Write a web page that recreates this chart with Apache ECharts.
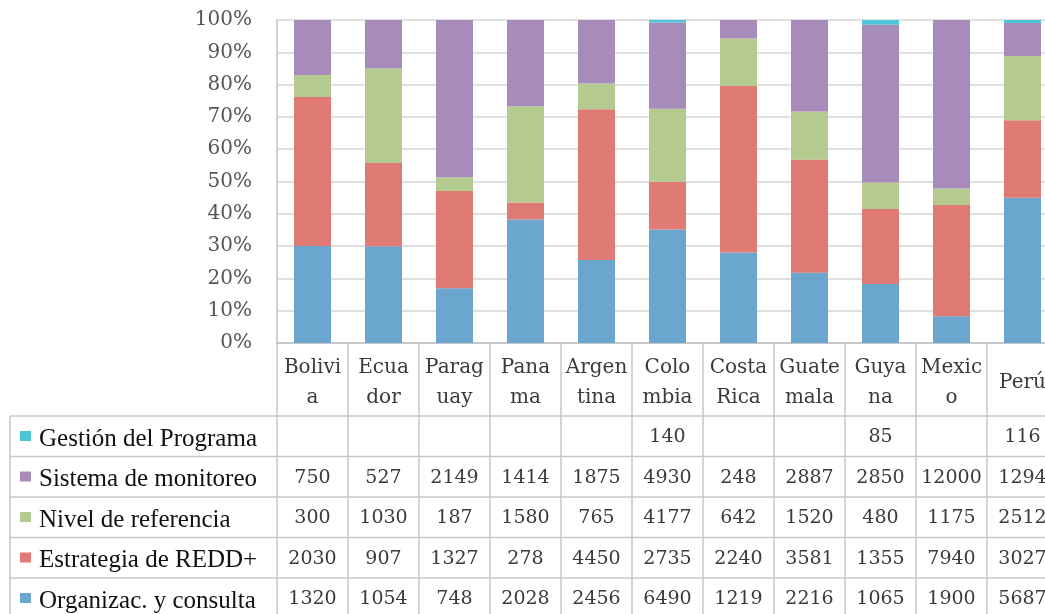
<!DOCTYPE html>
<html>
<head>
<meta charset="utf-8">
<script src="https://cdn.jsdelivr.net/npm/echarts@6/dist/echarts.min.js"></script>
<style>
  html, body { margin: 0; padding: 0; background: #fff; overflow: hidden; }
  #chart { width: 1060px; height: 614px; }
</style>
</head>
<body>
<div id="chart"></div>
<script>
// datos (tabla del reporte)
const countries = ['Bolivia', 'Ecuador', 'Paraguay', 'Panama', 'Argentina', 'Colombia', 'Costa Rica', 'Guatemala', 'Guyana', 'Mexico', 'Perú'];
const countryLabels = ['Bolivi\na', 'Ecua\ndor', 'Parag\nuay', 'Pana\nma', 'Argen\ntina', 'Colo\nmbia', 'Costa\nRica', 'Guate\nmala', 'Guya\nna', 'Mexic\no', 'Perú'];
const organizac = [1320, 1054, 748, 2028, 2456, 6490, 1219, 2216, 1065, 1900, 5687];
const estrategia = [2030, 907, 1327, 278, 4450, 2735, 2240, 3581, 1355, 7940, 3027];
const nivel = [300, 1030, 187, 1580, 765, 4177, 642, 1520, 480, 1175, 2512];
const sistema = [750, 527, 2149, 1414, 1875, 4930, 248, 2887, 2850, 12000, 1294];
const gestion = [null, null, null, null, null, 140, null, null, 85, null, 116];

const seriesNames = ['Organizac. y consulta', 'Estrategia de REDD+', 'Nivel de referencia', 'Sistema de monitoreo', 'Gestión del Programa'];
const seriesData = [organizac, estrategia, nivel, sistema, gestion];
const colors = ['#6aa6cd', '#e07a74', '#b4ca8f', '#a78bba', '#4cc5d6'];

const totals = countries.map((c, i) => seriesData.reduce((s, arr) => s + (arr[i] || 0), 0));

const chartDom = document.getElementById('chart');
const chart = echarts.init(chartDom);

const serif = '"DejaVu Serif", serif';
const plotLeft = 277;
const catWidth = 71;

let option = {
  animation: false,
  grid: {
    left: plotLeft,
    top: 20,
    width: catWidth * countries.length,
    bottom: 271,
  },
  xAxis: {
    type: 'category',
    data: countries,
    axisLine: { lineStyle: { color: '#bfbfbf', width: 1.5 } },
    axisTick: {
      show: true,
      interval: 0,
      length: 280,
      lineStyle: { color: '#c8c8c8', width: 1.5 },
    },
    axisLabel: {
      interval: 0,
      margin: 40,
      align: 'center',
      verticalAlign: 'middle',
      lineHeight: 30,
      fontFamily: serif,
      fontSize: 20,
      color: '#3a3a3a',
      formatter: (v, i) => countryLabels[i],
    },
  },
  yAxis: {
    type: 'value',
    min: 0,
    max: 100,
    interval: 10,
    axisLine: { show: true, lineStyle: { color: '#bfbfbf', width: 1.5 } },
    axisTick: { show: false },
    splitLine: { lineStyle: { color: '#d6d6d6', width: 1.5 } },
    axisLabel: {
      margin: 25,
      fontFamily: serif,
      fontSize: 20,
      color: '#555',
      formatter: '{value}%',
    },
  },
  series: seriesNames.map((name, k) => ({
    name: name,
    type: 'bar',
    stack: 'total',
    barWidth: 37,
    itemStyle: { color: colors[k] },
    data: seriesData[k].map((v, i) => (v == null ? null : (v / totals[i]) * 100)),
  })),
};
chart.setOption(option);

// tabla de datos debajo del grafico
const rowTops = [416, 456.5, 497, 537.5, 578];
const rowH = 40.5;
const tableOrder = [4, 3, 2, 1, 0]; // Gestion arriba, Organizac abajo
const xs = countries.map(c => chart.convertToPixel({ xAxisIndex: 0 }, c));
const graphics = [];

rowTops.forEach(y => {
  graphics.push({
    type: 'line',
    shape: { x1: 10, y1: y, x2: 1060, y2: y },
    style: { stroke: '#c8c8c8', lineWidth: 1.5 },
  });
});
graphics.push({
  type: 'line',
  shape: { x1: 10, y1: 416, x2: 10, y2: 614 },
  style: { stroke: '#c8c8c8', lineWidth: 1.5 },
});

tableOrder.forEach((k, r) => {
  const top = rowTops[r];
  graphics.push({
    type: 'rect',
    shape: { x: 20, y: top + 15, width: 11, height: 10 },
    style: { fill: colors[k] },
  });
  graphics.push({
    type: 'text',
    x: 39,
    y: top + 23,
    style: {
      text: seriesNames[k],
      font: '25px "Liberation Serif", serif',
      fill: '#111',
      verticalAlign: 'middle',
    },
  });
  seriesData[k].forEach((v, i) => {
    if (v == null) return;
    graphics.push({
      type: 'text',
      x: xs[i],
      y: top + rowH / 2 + 1,
      style: {
        text: String(v),
        font: '19px "DejaVu Serif", serif',
        fill: '#3a3a3a',
        align: 'center',
        verticalAlign: 'middle',
      },
    });
  });
});

chart.setOption({ graphic: graphics });
</script>
</body>
</html>
